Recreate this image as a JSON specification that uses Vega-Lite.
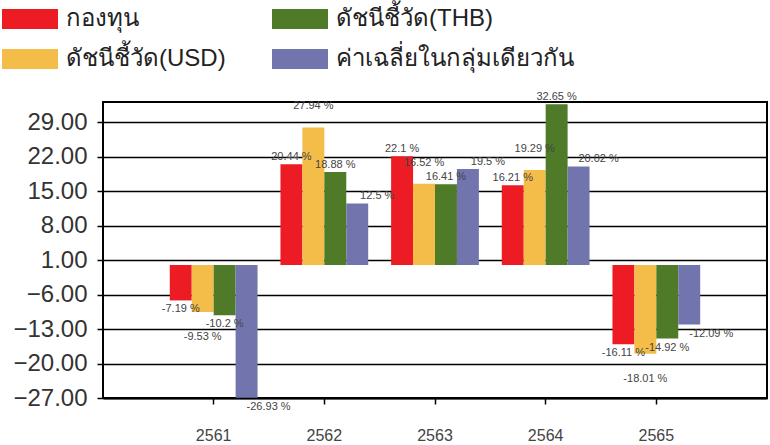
{
  "$schema": "https://vega.github.io/schema/vega-lite/v6.json",
  "autosize": {"type": "none"},
  "width": 664,
  "height": 296,
  "padding": {"left": 103, "top": 102, "right": 3, "bottom": 47},
  "background": "white",
  "config": {
    "view": {"stroke": "black", "strokeWidth": 2},
    "font": "Liberation Sans"
  },
  "data": {
    "values": [
      {"year": "2561", "series": "กองทุน", "value": -7.19},
      {"year": "2561", "series": "ดัชนีชี้วัด(USD)", "value": -9.53},
      {"year": "2561", "series": "ดัชนีชี้วัด(THB)", "value": -10.2},
      {"year": "2561", "series": "ค่าเฉลี่ยในกลุ่มเดียวกัน", "value": -26.93},
      {"year": "2562", "series": "กองทุน", "value": 20.44},
      {"year": "2562", "series": "ดัชนีชี้วัด(USD)", "value": 27.94},
      {"year": "2562", "series": "ดัชนีชี้วัด(THB)", "value": 18.88},
      {"year": "2562", "series": "ค่าเฉลี่ยในกลุ่มเดียวกัน", "value": 12.5},
      {"year": "2563", "series": "กองทุน", "value": 22.1},
      {"year": "2563", "series": "ดัชนีชี้วัด(USD)", "value": 16.52},
      {"year": "2563", "series": "ดัชนีชี้วัด(THB)", "value": 16.41},
      {"year": "2563", "series": "ค่าเฉลี่ยในกลุ่มเดียวกัน", "value": 19.5},
      {"year": "2564", "series": "กองทุน", "value": 16.21},
      {"year": "2564", "series": "ดัชนีชี้วัด(USD)", "value": 19.29},
      {"year": "2564", "series": "ดัชนีชี้วัด(THB)", "value": 32.65},
      {"year": "2564", "series": "ค่าเฉลี่ยในกลุ่มเดียวกัน", "value": 20.02},
      {"year": "2565", "series": "กองทุน", "value": -16.11},
      {"year": "2565", "series": "ดัชนีชี้วัด(USD)", "value": -18.01},
      {"year": "2565", "series": "ดัชนีชี้วัด(THB)", "value": -14.92},
      {"year": "2565", "series": "ค่าเฉลี่ยในกลุ่มเดียวกัน", "value": -12.09}
    ]
  },
  "transform": [{"calculate": "datum.value + ' %'", "as": "label"}],
  "encoding": {
    "x": {
      "field": "year", "type": "nominal",
      "scale": {"paddingInner": 0.207, "paddingOuter": 0.6035},
      "axis": {
        "title": null, "labelAngle": 0, "labelFontSize": 16, "labelColor": "#444",
        "labelPadding": 23, "domainColor": "black", "domainWidth": 2,
        "tickColor": "black", "tickWidth": 1.5, "tickSize": 6, "grid": false
      }
    },
    "xOffset": {
      "field": "series", "type": "nominal",
      "scale": {"domain": ["กองทุน", "ดัชนีชี้วัด(USD)", "ดัชนีชี้วัด(THB)", "ค่าเฉลี่ยในกลุ่มเดียวกัน"], "paddingInner": 0, "paddingOuter": 0}
    },
    "y": {
      "field": "value", "type": "quantitative",
      "scale": {"domain": [-27, 33.1], "nice": false, "zero": true},
      "axis": {
        "title": null, "values": [-27, -20, -13, -6, 1, 8, 15, 22, 29], "format": ".2f",
        "labelFontSize": 24, "labelColor": "#333", "labelPadding": 10,
        "grid": true, "gridColor": "black", "gridWidth": 1.5, "gridOpacity": 1,
        "domain": false, "tickColor": "black", "tickWidth": 1.5, "tickSize": 6
      }
    }
  },
  "layer": [
    {
      "mark": {"type": "bar", "binSpacing": 0},
      "encoding": {
        "color": {
          "field": "series", "type": "nominal",
          "scale": {
            "domain": ["กองทุน", "ดัชนีชี้วัด(THB)", "ดัชนีชี้วัด(USD)", "ค่าเฉลี่ยในกลุ่มเดียวกัน"],
            "range": ["#ed1c24", "#4f7a28", "#f4bd4a", "#7275ad"]
          },
          "legend": {
            "title": null, "orient": "none", "legendX": -101, "legendY": -111,
            "direction": "horizontal", "columns": 2, "columnPadding": 46, "rowPadding": -22,
            "symbolType": "M-1,-0.36H1V0.36H-1Z", "symbolSize": 3136, "symbolStrokeWidth": 0,
            "labelFontSize": 24, "labelColor": "#222", "labelOffset": 8, "labelLimit": 400
          }
        }
      }
    },
    {
      "transform": [{"filter": "datum.value >= 0 && (datum.series == 'กองทุน' || datum.series == 'ดัชนีชี้วัด(THB)')"}],
      "mark": {"type": "text", "baseline": "bottom", "dy": -2, "fontSize": 11, "color": "#444"},
      "encoding": {"text": {"field": "label"}}
    },
    {
      "transform": [{"filter": "datum.value >= 0 && datum.series == 'ดัชนีชี้วัด(USD)'"}],
      "mark": {"type": "text", "baseline": "bottom", "dy": -16, "fontSize": 11, "color": "#444"},
      "encoding": {"text": {"field": "label"}}
    },
    {
      "transform": [{"filter": "datum.value >= 0 && datum.series == 'ค่าเฉลี่ยในกลุ่มเดียวกัน'"}],
      "mark": {"type": "text", "baseline": "bottom", "dy": -2, "dx": 20, "fontSize": 11, "color": "#444"},
      "encoding": {"text": {"field": "label"}}
    },
    {
      "transform": [{"filter": "datum.value < 0 && (datum.series == 'กองทุน' || datum.series == 'ดัชนีชี้วัด(THB)')"}],
      "mark": {"type": "text", "baseline": "top", "dy": 3, "fontSize": 11, "color": "#444"},
      "encoding": {"text": {"field": "label"}}
    },
    {
      "transform": [{"filter": "datum.value < 0 && datum.series == 'ดัชนีชี้วัด(USD)'"}],
      "mark": {"type": "text", "baseline": "top", "dy": 19, "fontSize": 11, "color": "#444"},
      "encoding": {"text": {"field": "label"}}
    },
    {
      "transform": [{"filter": "datum.value < 0 && datum.series == 'ค่าเฉลี่ยในกลุ่มเดียวกัน'"}],
      "mark": {"type": "text", "baseline": "top", "dy": 3, "dx": 22, "fontSize": 11, "color": "#444"},
      "encoding": {"text": {"field": "label"}}
    }
  ]
}
